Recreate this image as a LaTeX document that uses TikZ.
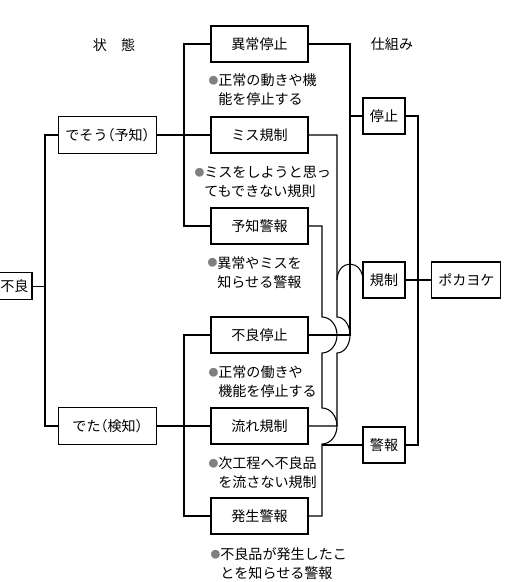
\documentclass[tikz,border=0pt]{standalone}
\usepackage{fontspec}
\newfontfamily\jpfont[CharacterWidth=AlternateHalf]{Noto Sans CJK JP}
\usetikzlibrary{calc}
\newcommand{\notedot}{\raisebox{0.9pt}{\scriptsize\textcolor{gray}{●}}}

\begin{document}
\begin{tikzpicture}[font={\jpfont\fontsize{10}{13.5}\selectfont}, line width=0.75pt,
    mbox/.style={draw, minimum width=2.425cm, minimum height=0.9cm,
                 inner sep=1pt, align=center},
    lbox/.style={draw, minimum width=2.45cm, minimum height=0.925cm,
                 inner sep=1pt, align=center},
    sbox/.style={draw, minimum width=#1, minimum height=0.9cm,
                 inner sep=1pt, align=center},
    note/.style={anchor=west, align=left, inner sep=0pt}]

  \useasboundingbox (0,0) rectangle (13.2,-14.55);

  %% ── Column headings ─────────────────────────────────────────
  \node (jotai)   at (2.85,-1.125) {状　態};
  \node (shikumi) at (9.8,-1.1)    {仕組み};

  %% ── Left: defect states ─────────────────────────────────────
  \node[draw, minimum width=0.88cm, minimum height=0.675cm, inner sep=0pt]
    (furyo) at (0.36,-7.16) {不良};
  \node[lbox] (deso) at (2.69,-3.375) {でそう（予知）};
  \node[lbox] (deta) at (2.69,-10.65) {でた（検知）};

  \coordinate (lbus) at (1.125,0);
  \draw (deso.west) -| (lbus |- deta.west) -- (deta.west);
  \draw (furyo.east) -- (lbus |- furyo.east);

  %% ── Middle: six functions with notes ────────────────────────
  \node[mbox] (ijou)   at (6.4875,-1.1)   {異常停止};
  \node[mbox] (miss)   at (6.4875,-3.375) {ミス規制};
  \node[mbox] (yochi)  at (6.4875,-5.65)  {予知警報};
  \node[mbox] (fstop)  at (6.4875,-8.375) {不良停止};
  \node[mbox] (nagare) at (6.4875,-10.65) {流れ規制};
  \node[mbox] (hassei) at (6.4875,-12.9)  {発生警報};

  \node[note] (n1) at (5.2,-2.25)   {\notedot{}正常の動きや機\\\phantom{\notedot}能を停止する};
  \node[note] (n2) at (4.85,-4.55)  {\notedot{}ミスをしようと思っ\\\phantom{\notedot}てもできない規則};
  \node[note] (n3) at (5.175,-6.81) {\notedot{}異常やミスを\\\phantom{\notedot}知らせる警報};
  \node[note] (n4) at (5.2,-9.54)   {\notedot{}正常の働きや\\\phantom{\notedot}機能を停止する};
  \node[note] (n5) at (5.2,-11.81)  {\notedot{}次工程へ不良品\\\phantom{\notedot}を流さない規制};
  \node[note] (n6) at (5.25,-14.1)  {\notedot{}不良品が発生したこ\\\phantom{\notedot}とを知らせる警報};

  \coordinate (mbus) at (4.6,0);
  \draw (ijou.west)  -| (mbus |- yochi.west)  -- (yochi.west);
  \draw (fstop.west) -| (mbus |- hassei.west) -- (hassei.west);
  \draw (deso.east) -- (miss.west);
  \draw (deta.east) -- (nagare.west);

  %% ── Right: mechanisms ───────────────────────────────────────
  \node[sbox=1.05cm]  (teishi)   at (9.6,-2.9)    {停止};
  \node[sbox=1.05cm]  (kisei)    at (9.6,-7.0)    {規制};
  \node[sbox=1.05cm]  (keiho)    at (9.6,-11.125) {警報};
  \node[sbox=1.725cm] (pokayoke) at (11.66,-7.0)  {ポカヨケ};

  \coordinate (busA) at (8.05,0);
  \coordinate (busB) at (8.425,0);
  \coordinate (busC) at (8.75,0);
  \coordinate (rbus) at (10.45,0);

  %% stop line
  \draw (ijou.east) -| (busC |- fstop.east) -- (fstop.east);
  \draw (busC |- teishi.west) -- (teishi.west);

  %% regulation line (jumps over the stop line)
  \draw (miss.east) -| ($(busB |- fstop.east)+(0,0.45)$)
    arc[start angle=90, end angle=-90, x radius=0.325, y radius=0.45]
    |- (nagare.east);
  \draw (busB |- kisei.west)
    arc[start angle=180, end angle=0, x radius=0.325, y radius=0.4] -- (kisei.west);

  %% warning line (two jumps)
  \draw (yochi.east) -| ($(busA |- fstop.east)+(0,0.45)$)
    arc[start angle=90, end angle=-90, x radius=0.375, y radius=0.45]
    -- ($(busA |- nagare.east)+(0,0.45)$)
    arc[start angle=90, end angle=-90, x radius=0.375, y radius=0.45]
    |- (hassei.east);
  \draw (busA |- keiho.west) -- (keiho.west);

  %% to poka-yoke
  \draw (teishi.east) -| (rbus |- keiho.east) -- (keiho.east);
  \draw (kisei.east) -- (pokayoke.west);

\end{tikzpicture}
\end{document}
